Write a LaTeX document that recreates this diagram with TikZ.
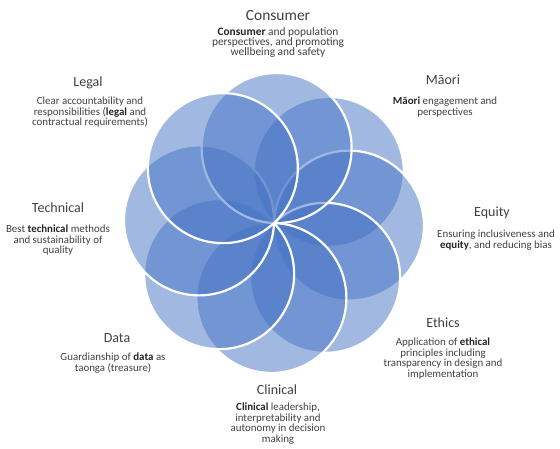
\documentclass[tikz,border=0pt]{standalone}
\usepackage{fontspec}
\setmainfont{Carlito}
\usetikzlibrary{calc}
\definecolor{petal}{HTML}{4472C4}
\definecolor{txt}{HTML}{404040}
\definecolor{txtb}{HTML}{262626}
\tikzset{
  petalring/.style={fill=petal, fill opacity=0.5, draw=white, draw opacity=1, line width=2.2pt},
  heading/.style={anchor=base, inner sep=0pt, text=txt, font=\fontsize{14}{16}\selectfont},
  blurb/.style={anchor=north, inner sep=0pt, align=center, text=txt, font=\fontsize{10.9}{10.5}\selectfont},
}
\newcommand{\kw}[1]{\textcolor{txtb}{\textbf{#1}}}
\begin{document}
\begin{tikzpicture}[x=1pt, y=-1pt]
\useasboundingbox (0,0) rectangle (560,448);
\coordinate (hub) at (274,223);
% eight overlapping petals through the hub, laid clockwise so each covers the last
\foreach \a/\nm in {43/p1, 358/p8, 313/p7, 268/p6, 223/p5, 178/p4, 88/p2, 133/p3}{
  \path[petalring] ($(hub)+({75*cos(\a)},{-75*sin(\a)})$) coordinate (\nm) circle (75);
}
% headings
\node[heading, font=\fontsize{15.5}{17}\selectfont] (hCons) at (278,20.5) {Consumer};
\node[heading] (hLeg)  at (88,86.5) {Legal};
\node[heading] (hMao)  at (443,84.5) {Māori};
\node[heading] (hEq)   at (492,216.5) {Equity};
\node[heading] (hTech) at (58,212.5) {Technical};
\node[heading] (hEth)  at (443,327.5) {Ethics};
\node[heading] (hData) at (117,342.5) {Data};
\node[heading] (hClin) at (277,394.5) {Clinical};
% descriptions
\node[blurb, font=\fontsize{11.4}{10}\selectfont] (dCons) at (278,27.5) {\kw{Consumer} and population\\perspectives, and promoting\\wellbeing and safety};
\node[blurb] (dLeg)  at (90,97) {Clear accountability and\\responsibilities (\kw{legal} and\\contractual requirements)};
\node[blurb] (dMao)  at (445,97) {\kw{Māori} engagement and\\perspectives};
\node[blurb] (dEq)   at (496,230) {Ensuring inclusiveness and\\\kw{equity}, and reducing bias};
\node[blurb] (dTech) at (58,225) {Best \kw{technical} methods\\and sustainability of\\quality};
\node[blurb] (dEth)  at (443,338) {Application of \kw{ethical}\\principles including\\transparency in design and\\implementation};
\node[blurb] (dData) at (113,353) {Guardianship of \kw{data} as\\taonga (treasure)};
\node[blurb] (dClin) at (278,403) {\kw{Clinical} leadership,\\interpretability and\\autonomy in decision\\making};
\end{tikzpicture}
\end{document}
